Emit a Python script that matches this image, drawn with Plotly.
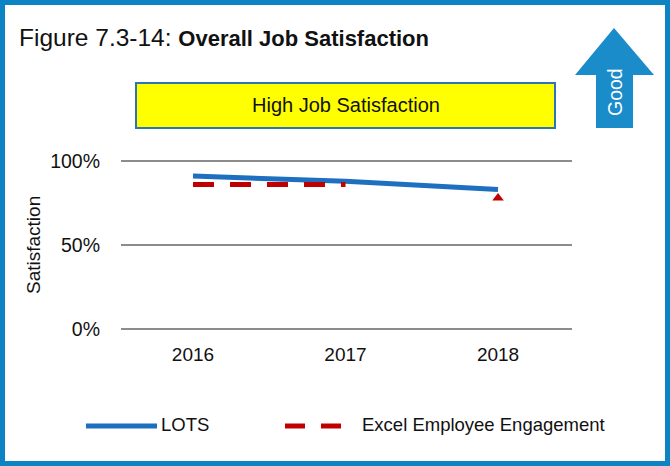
import plotly.graph_objects as go

# Survey results
years = ["2016", "2017", "2018"]
lots_values = [91, 88, 83]
excel_line_values = [86, 86, None]
excel_2018_value = [None, None, 78]
y_ticks = [0, 50, 100]
y_tick_labels = ["0%", "50%", "100%"]

lots_name = "LOTS"
excel_name = "Excel Employee Engagement"

BLUE_LINE = "#1f6fc0"
RED = "#c00000"
FRAME = "#0c84c3"
ARROW = "#1a8cc9"
INK = "#111111"
FONT = "Liberation Sans, Arial, sans-serif"

W, H = 670, 466
L, R, T, B = 121, 98, 158, 135
PW, PH = W - L - R, H - T - B
# 0% sits at pixel row 329, 100% at row 161
PX_PER_UNIT = 1.68
Y_MIN = -((H - B) - 329) / PX_PER_UNIT
Y_MAX = 100 + (161 - T) / PX_PER_UNIT


def px(x):
    return (x - L) / PW


def py(y):
    return (H - B - y) / PH


fig = go.Figure()

fig.add_trace(go.Scatter(
    x=years, y=lots_values, name=lots_name, mode="lines",
    line=dict(color=BLUE_LINE, width=5), showlegend=False,
))
fig.add_trace(go.Scatter(
    x=years, y=excel_line_values, name=excel_name, mode="lines",
    line=dict(color=RED, width=5, dash="21px,16px"), showlegend=False,
))
fig.add_trace(go.Scatter(
    x=years, y=excel_2018_value, name=excel_name, mode="markers",
    marker=dict(symbol="triangle-up", size=10, color=RED), showlegend=False,
))

shapes = [
    # outer frame
    dict(type="rect", xref="paper", yref="paper",
         x0=px(2.5), x1=px(W - 2.5), y0=py(H - 2.5), y1=py(2.5),
         line=dict(color=FRAME, width=5), layer="above"),
    # banner box
    dict(type="rect", xref="paper", yref="paper",
         x0=px(136), x1=px(555), y0=py(128), y1=py(83),
         fillcolor="#ffff00", line=dict(color="#2e75b6", width=2)),
    # "Good" arrow
    dict(type="path", xref="paper", yref="paper",
         path=("M {a},{t} L {b},{hb} L {c},{hb} L {c},{bot} L {d},{bot} "
               "L {d},{hb} L {e},{hb} Z").format(
             a=px(614), t=py(28), b=px(654), hb=py(75), c=px(633),
             bot=py(128), d=px(596), e=px(575)),
         fillcolor=ARROW, line=dict(width=0)),
    # legend samples
    dict(type="line", xref="paper", yref="paper",
         x0=px(86), x1=px(157), y0=py(426), y1=py(426),
         line=dict(color=BLUE_LINE, width=5)),
    dict(type="line", xref="paper", yref="paper",
         x0=px(285), x1=px(305), y0=py(426), y1=py(426),
         line=dict(color=RED, width=5)),
    dict(type="line", xref="paper", yref="paper",
         x0=px(321), x1=px(341), y0=py(426), y1=py(426),
         line=dict(color=RED, width=5)),
]


def label(x, y, text, size, xanchor="center", color=INK, angle=0):
    return dict(x=px(x), y=py(y), xref="paper", yref="paper",
                xanchor=xanchor, yanchor="middle", showarrow=False,
                text=text, textangle=angle,
                font=dict(size=size, color=color, family=FONT))


annotations = [
    label(17, 38, "Figure 7.3-14: "
          "<span style='font-size:22px'><b>Overall Job Satisfaction</b></span>",
          24.5, xanchor="left"),
    label(345.5, 105, "High Job Satisfaction", 20),
    label(615, 92, "Good", 19.5, color="white", angle=-90),
    label(33, 245, "Satisfaction", 19, angle=-90),
    label(159, 424, lots_name, 18.5, xanchor="left"),
    label(360, 424, excel_name, 18.5, xanchor="left"),
]

fig.update_layout(
    width=W, height=H,
    margin=dict(l=L, r=R, t=T, b=B),
    paper_bgcolor="white", plot_bgcolor="white",
    font=dict(family=FONT, size=19, color=INK),
    shapes=shapes, annotations=annotations,
    showlegend=False,
)
fig.update_xaxes(
    type="category", range=[-0.472, 2.485], showgrid=False,
    showline=False, zeroline=False, ticks="", ticklabelstandoff=10,
    tickfont=dict(size=19),
)
fig.update_yaxes(
    range=[Y_MIN, Y_MAX], tickvals=y_ticks, ticktext=y_tick_labels,
    showgrid=True, gridcolor="#8c8c8c", gridwidth=2, zeroline=False,
    showline=False, ticks="", ticklabelstandoff=20, tickfont=dict(size=19.5),
)

fig.write_html("out.html")
